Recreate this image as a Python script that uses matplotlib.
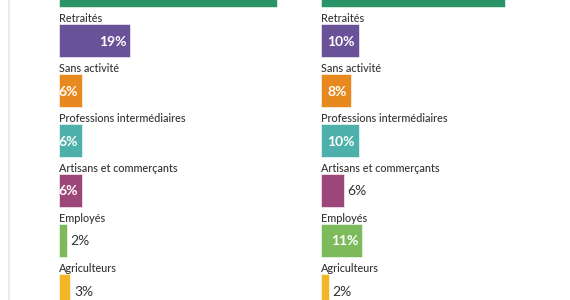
import matplotlib
matplotlib.use('Agg')
import matplotlib.pyplot as plt
from matplotlib.lines import Line2D
import numpy as np

# categories (top one is cut off in the reference, its label is not visible)
categories = ['', 'Retraités', 'Sans activité', 'Professions intermédiaires',
              'Artisans et commerçants', 'Employés', 'Agriculteurs']
left_values = [58, 19, 6, 6, 6, 2, 3]
right_values = [49, 10, 8, 10, 6, 11, 2]
colors = ['#2b9466', '#6a5299', '#e8891f', '#4eb0ab', '#9d4679', '#7cba5b', '#f2b626']

# which value labels sit inside the bar
left_inside = [True, True, True, True, True, False, False]
right_inside = [True, True, True, True, False, True, False]

plt.rcParams['font.family'] = ['Lato', 'DejaVu Sans']

W, H = 570, 300
fig = plt.figure(figsize=(W / 100, H / 100), dpi=100)
fig.patch.set_facecolor('white')

px_per_pct = 3.75
ax_w = 240  # pixels
pitch = 50  # pixels per category
bar_h = 33 / pitch
y_top = 0.19


def draw_panel(x0, values, inside):
    ax = fig.add_axes([x0 / W, 0, ax_w / W, 1])
    ax.set_xlim(0, ax_w / px_per_pct)
    ax.set_ylim(y_top + H / pitch, y_top)
    ax.axis('off')
    y = np.arange(len(categories))
    ax.barh(y, values, height=bar_h, color=colors, edgecolor='white', linewidth=0.4)
    off = 4 / px_per_pct
    for i, (cat, v) in enumerate(zip(categories, values)):
        # the top bar is cropped: its texts lie outside the picture
        if i - bar_h / 2 < y_top:
            continue
        ax.text(0, i - bar_h / 2 - 0.03, cat, fontsize=7.8, color='#333333',
                fontweight='medium', ha='left', va='baseline')
        if inside[i]:
            ax.text(v - off, i + 0.02, f'{v}%', fontsize=10, fontweight='bold',
                    color='white', ha='right', va='center')
        else:
            ax.text(v + off, i + 0.02, f'{v}%', fontsize=10, color='#333333',
                    ha='left', va='center')
    return ax


draw_panel(59, left_values, left_inside)
draw_panel(321, right_values, right_inside)

fig.add_artist(Line2D([8.5 / W, 8.5 / W], [0, 1], color='#e3e8f0', lw=1.2,
                      transform=fig.transFigure))

fig.savefig('out.png', dpi=100, facecolor='white')
